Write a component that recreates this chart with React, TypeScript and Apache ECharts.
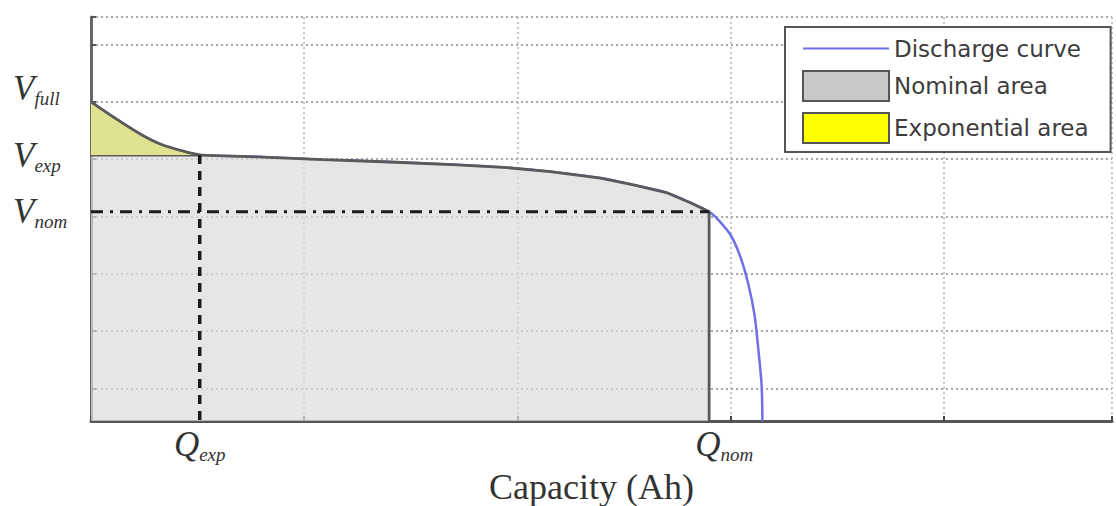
import React, { useEffect, useRef } from "react";
import * as echarts from "echarts";

// Key points of the discharge characteristic (axis units)
const Q_EXP = 0.51;
const Q_NOM = 2.9;
const V_FULL = 5.57;
const V_EXP = 4.64;
const V_NOM = 3.65;

// Exponential zone (0 .. Qexp)
const expX = [0, 0.127, 0.239, 0.333, 0.441, 0.51];
const expY = [5.57, 5.25, 4.99, 4.82, 4.7, 4.64];
// Nominal zone (Qexp .. Qnom)
const nomX = [0.51, 0.779, 1.089, 1.404, 1.718, 1.953, 2.155, 2.39, 2.545, 2.704, 2.812, 2.9];
const nomY = [4.64, 4.61, 4.56, 4.52, 4.47, 4.42, 4.35, 4.24, 4.12, 3.98, 3.81, 3.65];
// Final drop (Qnom .. end)
const tailX = [2.9, 2.93, 3.0, 3.047, 3.085, 3.113, 3.131, 3.146, 3.15];
const tailY = [3.65, 3.56, 3.25, 2.86, 2.37, 1.85, 1.24, 0.63, 0];

const xLabelValues = [Q_EXP, Q_NOM];
const xLabelNames = ["exp", "nom"];
const yLabelValues = [V_NOM, V_EXP, V_FULL];
const yLabelNames = ["nom", "exp", "full"];
const yGrid = [0.57, 1.57, 2.57, 3.57, 4.57, 5.57, 6.57, 7.05];
const legendNames = ["Discharge curve", "Nominal area", "Exponential area"];

const X_MAX = 4.79;
const Y_MAX = 7.05;

const zip = (xs: number[], ys: number[]) => xs.map((x, i) => [x, ys[i]]);

export default function App() {
  const ref = useRef<HTMLDivElement>(null);
  useEffect(() => {
    if (!ref.current) return;
    const chart = echarts.init(ref.current, undefined, { renderer: "svg" });
    const serif = "Liberation Serif";
    const tok = (size: number, padding: number[]) => ({
      fontFamily: serif,
      fontStyle: "italic",
      fontSize: size,
      color: "#333",
      padding,
    });
    const discharge = [
      ...zip(expX, expY),
      ...zip(nomX, nomY).slice(1),
      ...zip(tailX, tailY).slice(1),
    ];
    const nominal = [[0, V_EXP], ...zip(nomX, nomY), [Q_NOM, 0]];
    const exponential = zip(expX, expY);
    const near = (a: number, b: number) => Math.abs(a - b) < 1e-6;

    chart.setOption({
      animation: false,
      backgroundColor: "#fff",
      grid: { left: 91, right: 4, top: 17, bottom: 85, containLabel: false, outerBoundsMode: "none" },
      legend: {
        orient: "vertical",
        left: 785,
        top: 27,
        padding: [10, 22, 8, 17],
        itemWidth: 86,
        itemHeight: 30,
        itemGap: 10,
        backgroundColor: "#fff",
        borderColor: "#555",
        borderWidth: 2,
        textStyle: { fontFamily: "DejaVu Sans", fontSize: 23, color: "#3c3c3c" },
        data: [
          { name: legendNames[0], icon: "path://M0,0L86,0L86,2L0,2Z", itemStyle: { color: "#6f6fe8" } },
          { name: legendNames[1], icon: "rect", itemStyle: { color: "#c8c8c8", borderColor: "#555", borderWidth: 2 } },
          { name: legendNames[2], icon: "rect", itemStyle: { color: "#ffff00", borderColor: "#555", borderWidth: 2 } },
        ],
      },
      xAxis: {
        type: "value",
        min: 0,
        max: X_MAX,
        interval: 1,
        axisLine: { show: true, lineStyle: { color: "#555", width: 3 } },
        axisTick: { show: true, inside: true, length: 5, lineStyle: { color: "#444", width: 2 } },
        splitLine: { show: true, lineStyle: { color: "#b4b4b4", type: [2, 3], width: 1.5 } },
        axisLabel: {
          customValues: xLabelValues,
          margin: 4,
          formatter: (v: number) => {
            const i = xLabelValues.findIndex((q) => near(q, v));
            if (i < 0) return "";
            return i === 1 ? `{qn|Q}{s|${xLabelNames[i]}}` : `{q|Q}{s|${xLabelNames[i]}}`;
          },
          rich: {
            q: tok(35, [0, 0, 0, 0]),
            qn: tok(35, [0, 0, 0, 30]),
            s: tok(19, [20, 0, 0, 0]),
          },
        },
        name: "Capacity (Ah)",
        nameLocation: "middle",
        nameGap: 46,
        nameTextStyle: { fontFamily: serif, fontSize: 36, color: "#333", padding: [0, 20, 0, 0] },
      },
      yAxis: {
        type: "value",
        min: 0,
        max: Y_MAX,
        axisLine: { show: true, lineStyle: { color: "#666", width: 3 } },
        axisTick: { show: true, inside: true, length: 5, customValues: yGrid, lineStyle: { color: "#555", width: 2 } },
        splitLine: { show: true, lineStyle: { color: "#8c8c8c", type: [2, 3], width: 1.5 } },
        axisLabel: {
          customValues: yLabelValues,
          align: "left",
          margin: 78,
          formatter: (v: number) => {
            const i = yLabelValues.findIndex((q) => near(q, v));
            if (i < 0) return "";
            return i === 2 ? `{vf|V}{sf|${yLabelNames[i]}}` : `{v|V}{s|${yLabelNames[i]}}`;
          },
          rich: {
            v: tok(35, [0, 0, 0, 0]),
            s: tok(19, [20, 0, 0, 0]),
            vf: tok(35, [0, 0, 26, 0]),
            sf: tok(19, [20, 0, 26, 0]),
          },
        },
      },
      series: [
        {
          name: legendNames[0],
          type: "line",
          data: discharge,
          symbol: "none",
          smooth: 0.3,
          color: "#6f6fe8",
          lineStyle: { color: "#6f6fe8", width: 2.5 },
          z: 2,
        },
        {
          name: legendNames[1],
          type: "line",
          data: nominal,
          symbol: "none",
          color: "#c8c8c8",
          lineStyle: { color: "#5a5a5a", width: 2.8 },
          areaStyle: { color: "#dcdcdc", opacity: 0.72 },
          z: 3,
        },
        {
          name: legendNames[2],
          type: "line",
          data: exponential,
          symbol: "none",
          smooth: 0.3,
          color: "#ffff00",
          lineStyle: { color: "#5a5a5a", width: 2.8 },
          areaStyle: { color: "#dfe390", opacity: 1, origin: V_EXP },
          z: 4,
        },
        {
          name: "Qexp marker",
          type: "line",
          data: [[Q_EXP, V_EXP], [Q_EXP, 0]],
          symbol: "none",
          lineStyle: { color: "#1a1a1a", width: 3.5, type: [9, 7] },
          z: 5,
        },
        {
          name: "Vnom marker",
          type: "line",
          data: [[0, V_NOM], [Q_NOM, V_NOM]],
          symbol: "none",
          lineStyle: { color: "#1a1a1a", width: 3, type: [12, 7, 3, 7] },
          z: 5,
        },
      ],
    });
    return () => chart.dispose();
  }, []);
  return (
    <div
      ref={ref}
      style={{ position: "absolute", left: 0, top: 0, width: 1116, height: 506, background: "#fff" }}
    />
  );
}
